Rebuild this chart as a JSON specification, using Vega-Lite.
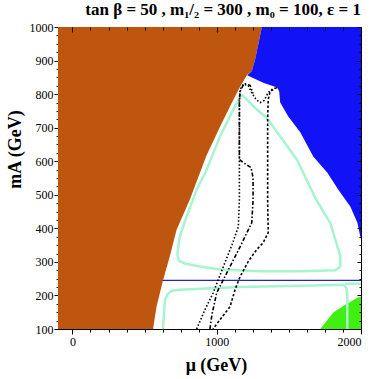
{
  "$schema": "https://vega.github.io/schema/vega-lite/v6.json",
  "width": 303,
  "height": 302,
  "autosize": "none",
  "padding": {"left": 58, "top": 27, "right": 13, "bottom": 50},
  "config": {
    "view": {"stroke": "black", "strokeWidth": 1},
    "font": "Liberation Serif",
    "axis": {"labelFont": "Liberation Serif", "titleFont": "Liberation Serif", "labelColor": "black", "tickColor": "black", "domain": false, "grid": false, "labelOverlap": false}
  },
  "title": {
    "text": "tan β = 50 ,   m₁/₂ = 300 ,   m₀ = 100,  ε = 1",
    "anchor": "end",
    "frame": "group",
    "font": "Liberation Serif",
    "fontSize": 17,
    "fontWeight": "bold",
    "baseline": "alphabetic",
    "offset": 6,
    "dy": 17,
    "color": "black"
  },
  "datasets": {
    "brown": [
      {"mA": 1000, "mu": 1313}, {"mA": 903, "mu": 1266}, {"mA": 868, "mu": 1243}, {"mA": 858, "mu": 1211},
      {"mA": 822, "mu": 1162}, {"mA": 793, "mu": 1127}, {"mA": 763, "mu": 1092}, {"mA": 703, "mu": 1023},
      {"mA": 617, "mu": 929}, {"mA": 486, "mu": 814}, {"mA": 396, "mu": 722}, {"mA": 317, "mu": 675},
      {"mA": 247, "mu": 629}, {"mA": 167, "mu": 583}, {"mA": 100, "mu": 559}
    ],
    "blue": [
      {"mA": 1000, "mu": 1313}, {"mA": 903, "mu": 1266}, {"mA": 868, "mu": 1243}, {"mA": 856, "mu": 1211},
      {"mA": 834, "mu": 1322}, {"mA": 820, "mu": 1419}, {"mA": 808, "mu": 1433}, {"mA": 775, "mu": 1440},
      {"mA": 733, "mu": 1496}, {"mA": 686, "mu": 1579}, {"mA": 614, "mu": 1669}, {"mA": 566, "mu": 1767},
      {"mA": 515, "mu": 1843}, {"mA": 465, "mu": 1926}, {"mA": 417, "mu": 1975}, {"mA": 366, "mu": 2000}
    ],
    "green": [
      {"mA": 196, "mu": 2000}, {"mA": 193, "mu": 1975}, {"mA": 172, "mu": 1891}, {"mA": 149, "mu": 1808}, {"mA": 100, "mu": 1718}
    ],
    "pale": [
      {"c": "T", "i": 0, "mu": 1174, "mA": 799}, {"c": "T", "i": 1, "mu": 1185, "mA": 794},
      {"c": "T", "i": 2, "mu": 1278, "mA": 754}, {"c": "T", "i": 3, "mu": 1347, "mA": 729},
      {"c": "T", "i": 4, "mu": 1440, "mA": 674}, {"c": "T", "i": 5, "mu": 1556, "mA": 605},
      {"c": "T", "i": 6, "mu": 1683, "mA": 491}, {"c": "T", "i": 7, "mu": 1787, "mA": 416},
      {"c": "T", "i": 8, "mu": 1857, "mA": 317}, {"c": "T", "i": 9, "mu": 1857, "mA": 286},
      {"c": "T", "i": 10, "mu": 1822, "mA": 275}, {"c": "T", "i": 11, "mu": 1579, "mA": 272},
      {"c": "T", "i": 12, "mu": 1301, "mA": 272}, {"c": "T", "i": 13, "mu": 1023, "mA": 277},
      {"c": "T", "i": 14, "mu": 884, "mA": 286}, {"c": "T", "i": 15, "mu": 780, "mA": 295},
      {"c": "T", "i": 16, "mu": 738, "mA": 304}, {"c": "T", "i": 17, "mu": 728, "mA": 322},
      {"c": "T", "i": 18, "mu": 735, "mA": 351}, {"c": "T", "i": 19, "mu": 745, "mA": 376},
      {"c": "T", "i": 20, "mu": 792, "mA": 436}, {"c": "T", "i": 21, "mu": 861, "mA": 515},
      {"c": "T", "i": 22, "mu": 931, "mA": 575}, {"c": "T", "i": 23, "mu": 1023, "mA": 674},
      {"c": "T", "i": 24, "mu": 1115, "mA": 754}, {"c": "T", "i": 25, "mu": 1174, "mA": 799},
      {"c": "L1", "i": 0, "mu": 627, "mA": 100}, {"c": "L1", "i": 1, "mu": 634, "mA": 143},
      {"c": "L1", "i": 2, "mu": 641, "mA": 187}, {"c": "L1", "i": 3, "mu": 662, "mA": 205},
      {"c": "L1", "i": 4, "mu": 689, "mA": 214}, {"c": "L1", "i": 5, "mu": 745, "mA": 217},
      {"c": "L1", "i": 6, "mu": 884, "mA": 220}, {"c": "L1", "i": 7, "mu": 1162, "mA": 225},
      {"c": "L1", "i": 8, "mu": 1579, "mA": 229}, {"c": "L1", "i": 9, "mu": 1878, "mA": 232},
      {"c": "L1", "i": 10, "mu": 1898, "mA": 223}, {"c": "L1", "i": 11, "mu": 1905, "mA": 202},
      {"c": "L1", "i": 12, "mu": 1905, "mA": 100},
      {"c": "L2", "i": 0, "mu": 1890, "mA": 235}, {"c": "L2", "i": 1, "mu": 2000, "mA": 235}
    ],
    "hline": [{"mA": 245, "mu": 625, "mu2": 2000}],
    "dash": [
      {"c": "L", "i": 0, "mu": 861, "mA": 100}, {"c": "L", "i": 1, "mu": 919, "mA": 158},
      {"c": "L", "i": 2, "mu": 976, "mA": 208}, {"c": "L", "i": 3, "mu": 1046, "mA": 286},
      {"c": "L", "i": 4, "mu": 1106, "mA": 351}, {"c": "L", "i": 5, "mu": 1150, "mA": 405},
      {"c": "L", "i": 6, "mu": 1157, "mA": 486}, {"c": "L", "i": 7, "mu": 1157, "mA": 605},
      {"c": "L", "i": 8, "mu": 1158, "mA": 784}, {"c": "L", "i": 9, "mu": 1162, "mA": 814},
      {"c": "L", "i": 10, "mu": 1183, "mA": 829}, {"c": "L", "i": 11, "mu": 1218, "mA": 826},
      {"c": "L", "i": 12, "mu": 1245, "mA": 802}, {"c": "L", "i": 13, "mu": 1273, "mA": 784},
      {"c": "L", "i": 14, "mu": 1301, "mA": 775}, {"c": "L", "i": 15, "mu": 1329, "mA": 781},
      {"c": "L", "i": 16, "mu": 1357, "mA": 805}, {"c": "L", "i": 17, "mu": 1384, "mA": 814},
      {"c": "L", "i": 18, "mu": 1419, "mA": 820},
      {"c": "R", "i": 0, "mu": 1419, "mA": 820}, {"c": "R", "i": 1, "mu": 1370, "mA": 808},
      {"c": "R", "i": 2, "mu": 1357, "mA": 784}, {"c": "R", "i": 3, "mu": 1353, "mA": 724},
      {"c": "R", "i": 4, "mu": 1353, "mA": 486}, {"c": "R", "i": 5, "mu": 1357, "mA": 387},
      {"c": "R", "i": 6, "mu": 1322, "mA": 357}, {"c": "R", "i": 7, "mu": 1278, "mA": 337},
      {"c": "R", "i": 8, "mu": 1218, "mA": 301}, {"c": "R", "i": 9, "mu": 1162, "mA": 256},
      {"c": "R", "i": 10, "mu": 1127, "mA": 217}, {"c": "R", "i": 11, "mu": 1092, "mA": 166},
      {"c": "R", "i": 12, "mu": 1023, "mA": 128}, {"c": "R", "i": 13, "mu": 974, "mA": 100},
      {"c": "M", "i": 0, "mu": 953, "mA": 100}, {"c": "M", "i": 1, "mu": 967, "mA": 143},
      {"c": "M", "i": 2, "mu": 1000, "mA": 208}, {"c": "M", "i": 3, "mu": 1046, "mA": 247},
      {"c": "M", "i": 4, "mu": 1092, "mA": 286}, {"c": "M", "i": 5, "mu": 1162, "mA": 345},
      {"c": "M", "i": 6, "mu": 1243, "mA": 417}, {"c": "M", "i": 7, "mu": 1252, "mA": 486},
      {"c": "M", "i": 8, "mu": 1252, "mA": 551}, {"c": "M", "i": 9, "mu": 1238, "mA": 581},
      {"c": "M", "i": 10, "mu": 1183, "mA": 596}, {"c": "M", "i": 11, "mu": 1157, "mA": 605},
      {"c": "M", "i": 12, "mu": 1157, "mA": 784}, {"c": "M", "i": 13, "mu": 1162, "mA": 808},
      {"c": "M", "i": 14, "mu": 1190, "mA": 832}, {"c": "M", "i": 15, "mu": 1231, "mA": 826},
      {"c": "M", "i": 16, "mu": 1252, "mA": 802}
    ]
  },
  "resolve": {"axis": {"x": "independent", "y": "independent"}},
  "layer": [
    {
      "data": {"name": "brown"},
      "mark": {"type": "area", "orient": "horizontal", "color": "#BF5610", "clip": true},
      "encoding": {
        "y": {"field": "mA", "type": "quantitative", "scale": {"domain": [100, 1000], "nice": false, "zero": false},
          "axis": {"orient": "left", "values": [100,125,150,175,200,225,250,275,300,325,350,375,400,425,450,475,500,525,550,575,600,625,650,675,700,725,750,775,800,825,850,875,900,925,950,975,1000],
            "labelExpr": "datum.value % 100 === 0 ? datum.label : ''", "format": "d", "labelFontSize": 12, "labelPadding": 1,
            "tickSize": {"condition": {"test": "datum.value % 100 === 0", "value": 4}, "value": 2},
            "title": "mA (GeV)", "titleFontSize": 18, "titleFontWeight": "bold", "titleColor": "black",
            "titleAngle": -90, "titleX": -43, "titleY": 122, "titleAlign": "center", "titleBaseline": "middle"}},
        "x": {"field": "mu", "type": "quantitative", "scale": {"domain": [-100, 2000], "nice": false, "zero": false},
          "axis": {"orient": "bottom", "values": [0,125,250,375,500,625,750,875,1000,1125,1250,1375,1500,1625,1750,1875,2000],
            "labelExpr": "datum.value % 1000 === 0 ? datum.label : ''", "format": "d", "labelFontSize": 12, "labelPadding": 2,
            "tickSize": {"condition": {"test": "datum.value % 1000 === 0", "value": 5}, "value": 3},
            "title": "μ (GeV)", "titleFontSize": 18, "titleFontWeight": "bold", "titleColor": "black",
            "titleX": 158, "titleY": 36, "titleAlign": "center", "titleBaseline": "middle"}},
        "x2": {"datum": -100}
      }
    },
    {
      "data": {"name": "blue"},
      "mark": {"type": "area", "orient": "horizontal", "color": "#1212F6", "clip": true},
      "encoding": {
        "y": {"field": "mA", "type": "quantitative",
          "axis": {"orient": "right", "values": [100,200,300,400,500,600,700,800,900,1000],
            "labels": false, "title": null, "zindex": 2, "offset": -4, "tickSize": 4, "minExtent": 0, "maxExtent": 0}},
        "x": {"field": "mu", "type": "quantitative",
          "axis": {"orient": "top", "values": [0,1000,2000],
            "labels": false, "title": null, "zindex": 2, "offset": -5, "tickSize": 5, "minExtent": 0, "maxExtent": 0}},
        "x2": {"datum": 2000}
      }
    },
    {
      "data": {"name": "green"},
      "mark": {"type": "area", "orient": "horizontal", "color": "#40F012", "clip": true},
      "encoding": {
        "y": {"field": "mA", "type": "quantitative",
          "axis": {"orient": "right", "values": [125,150,175,225,250,275,325,350,375,425,450,475,525,550,575,625,650,675,725,750,775,825,850,875,925,950,975],
            "labels": false, "title": null, "zindex": 2, "offset": -2, "tickSize": 2, "minExtent": 0, "maxExtent": 0}},
        "x": {"field": "mu", "type": "quantitative",
          "axis": {"orient": "top", "values": [125,250,375,500,625,750,875,1125,1250,1375,1500,1625,1750,1875],
            "labels": false, "title": null, "zindex": 2, "offset": -3, "tickSize": 3, "minExtent": 0, "maxExtent": 0}},
        "x2": {"datum": 2000}
      }
    },
    {
      "data": {"name": "pale"},
      "mark": {"type": "line", "color": "#A6F5CF", "strokeWidth": 2.5, "clip": true},
      "encoding": {
        "x": {"field": "mu", "type": "quantitative", "axis": null},
        "y": {"field": "mA", "type": "quantitative", "axis": null},
        "detail": {"field": "c"},
        "order": {"field": "i", "type": "quantitative"}
      }
    },
    {
      "data": {"name": "hline"},
      "mark": {"type": "rule", "color": "#2424C8", "strokeWidth": 1.2, "clip": true},
      "encoding": {
        "x": {"field": "mu", "type": "quantitative", "axis": null},
        "x2": {"field": "mu2"},
        "y": {"field": "mA", "type": "quantitative", "axis": null}
      }
    },
    {
      "data": {"name": "dash"},
      "mark": {"type": "line", "color": "black", "strokeWidth": 1.6, "clip": true},
      "encoding": {
        "x": {"field": "mu", "type": "quantitative", "axis": null},
        "y": {"field": "mA", "type": "quantitative", "axis": null},
        "detail": {"field": "c"},
        "order": {"field": "i", "type": "quantitative"},
        "strokeDash": {"field": "c", "type": "nominal", "legend": null,
          "scale": {"domain": ["L", "M", "R"], "range": [[1.5, 2], [4, 2, 1.5, 2], [2.5, 2]]}}
      }
    }
  ]
}
